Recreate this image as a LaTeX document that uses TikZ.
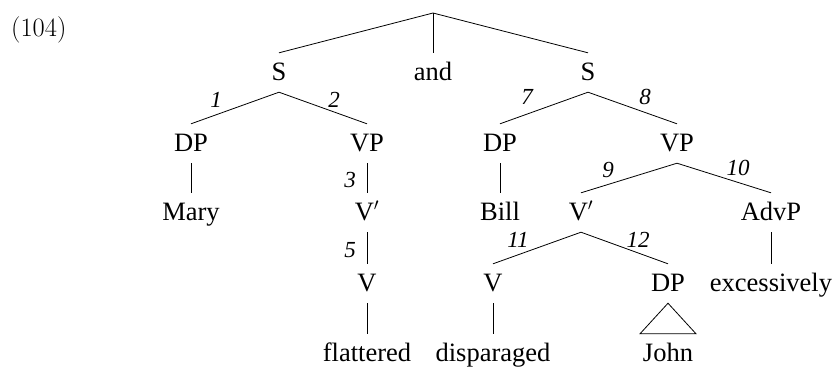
\documentclass[tikz,border=0pt]{standalone}
\usepackage{fontspec}
\setmainfont{Liberation Serif}
\newfontfamily\lmfont{Latin Modern Roman}
\begin{document}
\begin{tikzpicture}[x=1pt,y=-1pt,
  tn/.style={anchor=base, inner xsep=0pt, inner ysep=9pt, text height=18pt, text depth=3pt,
    font=\fontsize{26.5}{30}\selectfont},
  lab/.style={inner sep=0pt, font=\fontsize{23}{26}\selectfont\itshape},
  br/.style={line width=0.8pt}]
\useasboundingbox (0,0) rectangle (833,368);
\node[anchor=base west, inner sep=0pt, font=\lmfont\fontsize{26.5}{30}\selectfont] (ex) at (11,36) {(104)};
\coordinate (root) at (433,13);
% row 1
\node[tn] (s1) at (279,80) {S};
\node[tn] (and) at (433,80) {and};
\node[tn] (s2) at (588,80) {S};
% row 2
\node[tn] (dp1) at (191,151) {DP};
\node[tn] (vp1) at (367,151) {VP};
\node[tn] (dp2) at (500,151) {DP};
\node[tn] (vp2) at (677,151) {VP};
% row 3
\node[tn] (mary) at (191,220) {Mary};
\node[tn] (vb1) at (367,220) {V$'$};
\node[tn] (bill) at (500,220) {Bill};
\node[tn] (vb2) at (581,220) {V$'$};
\node[tn] (advp) at (771,220) {AdvP};
% row 4
\node[tn] (v1) at (367,291) {V};
\node[tn] (v2) at (493,291) {V};
\node[tn] (dp3) at (668,291) {DP};
\node[tn] (exc) at (771,291) {excessively};
% row 5
\node[tn] (flat) at (367,361) {flattered};
\node[tn] (disp) at (493,361) {disparaged};
\node[tn] (john) at (668,361) {John};
% branches
\draw[br] (root) -- (s1.north);
\draw[br] (root) -- (and.north);
\draw[br] (root) -- (s2.north);
\draw[br] (s1.south) -- (dp1.north);
\draw[br] (s1.south) -- (vp1.north);
\draw[br] (s2.south) -- (dp2.north);
\draw[br] (s2.south) -- (vp2.north);
\draw[br] (dp1.south) -- (mary.north);
\draw[br] (vp1.south) -- (vb1.north);
\draw[br] (vb1.south) -- (v1.north);
\draw[br] (v1.south) -- (flat.north);
\draw[br] (dp2.south) -- (bill.north);
\draw[br] (vp2.south) -- (vb2.north);
\draw[br] (vp2.south) -- (advp.north);
\draw[br] (advp.south) -- (exc.north);
\draw[br] (vb2.south) -- (v2.north);
\draw[br] (vb2.south) -- (dp3.north);
\draw[br] (v2.south) -- (disp.north);
\draw[br] (dp3.south) -- ([xshift=-28pt]john.north) -- ([xshift=28pt]john.north) -- cycle;
% labels
\node[lab] (l1) at (216,100) {1};
\node[lab] (l2) at (334,100) {2};
\node[lab] (l3) at (350,180) {3};
\node[lab] (l5) at (350,250) {5};
\node[lab] (l7) at (527,97) {7};
\node[lab] (l8) at (645,97) {8};
\node[lab] (l9) at (608,170) {9};
\node[lab] (l10) at (738,168) {10};
\node[lab] (l11) at (518,240) {11};
\node[lab] (l12) at (638,240) {12};
\end{tikzpicture}
\end{document}
